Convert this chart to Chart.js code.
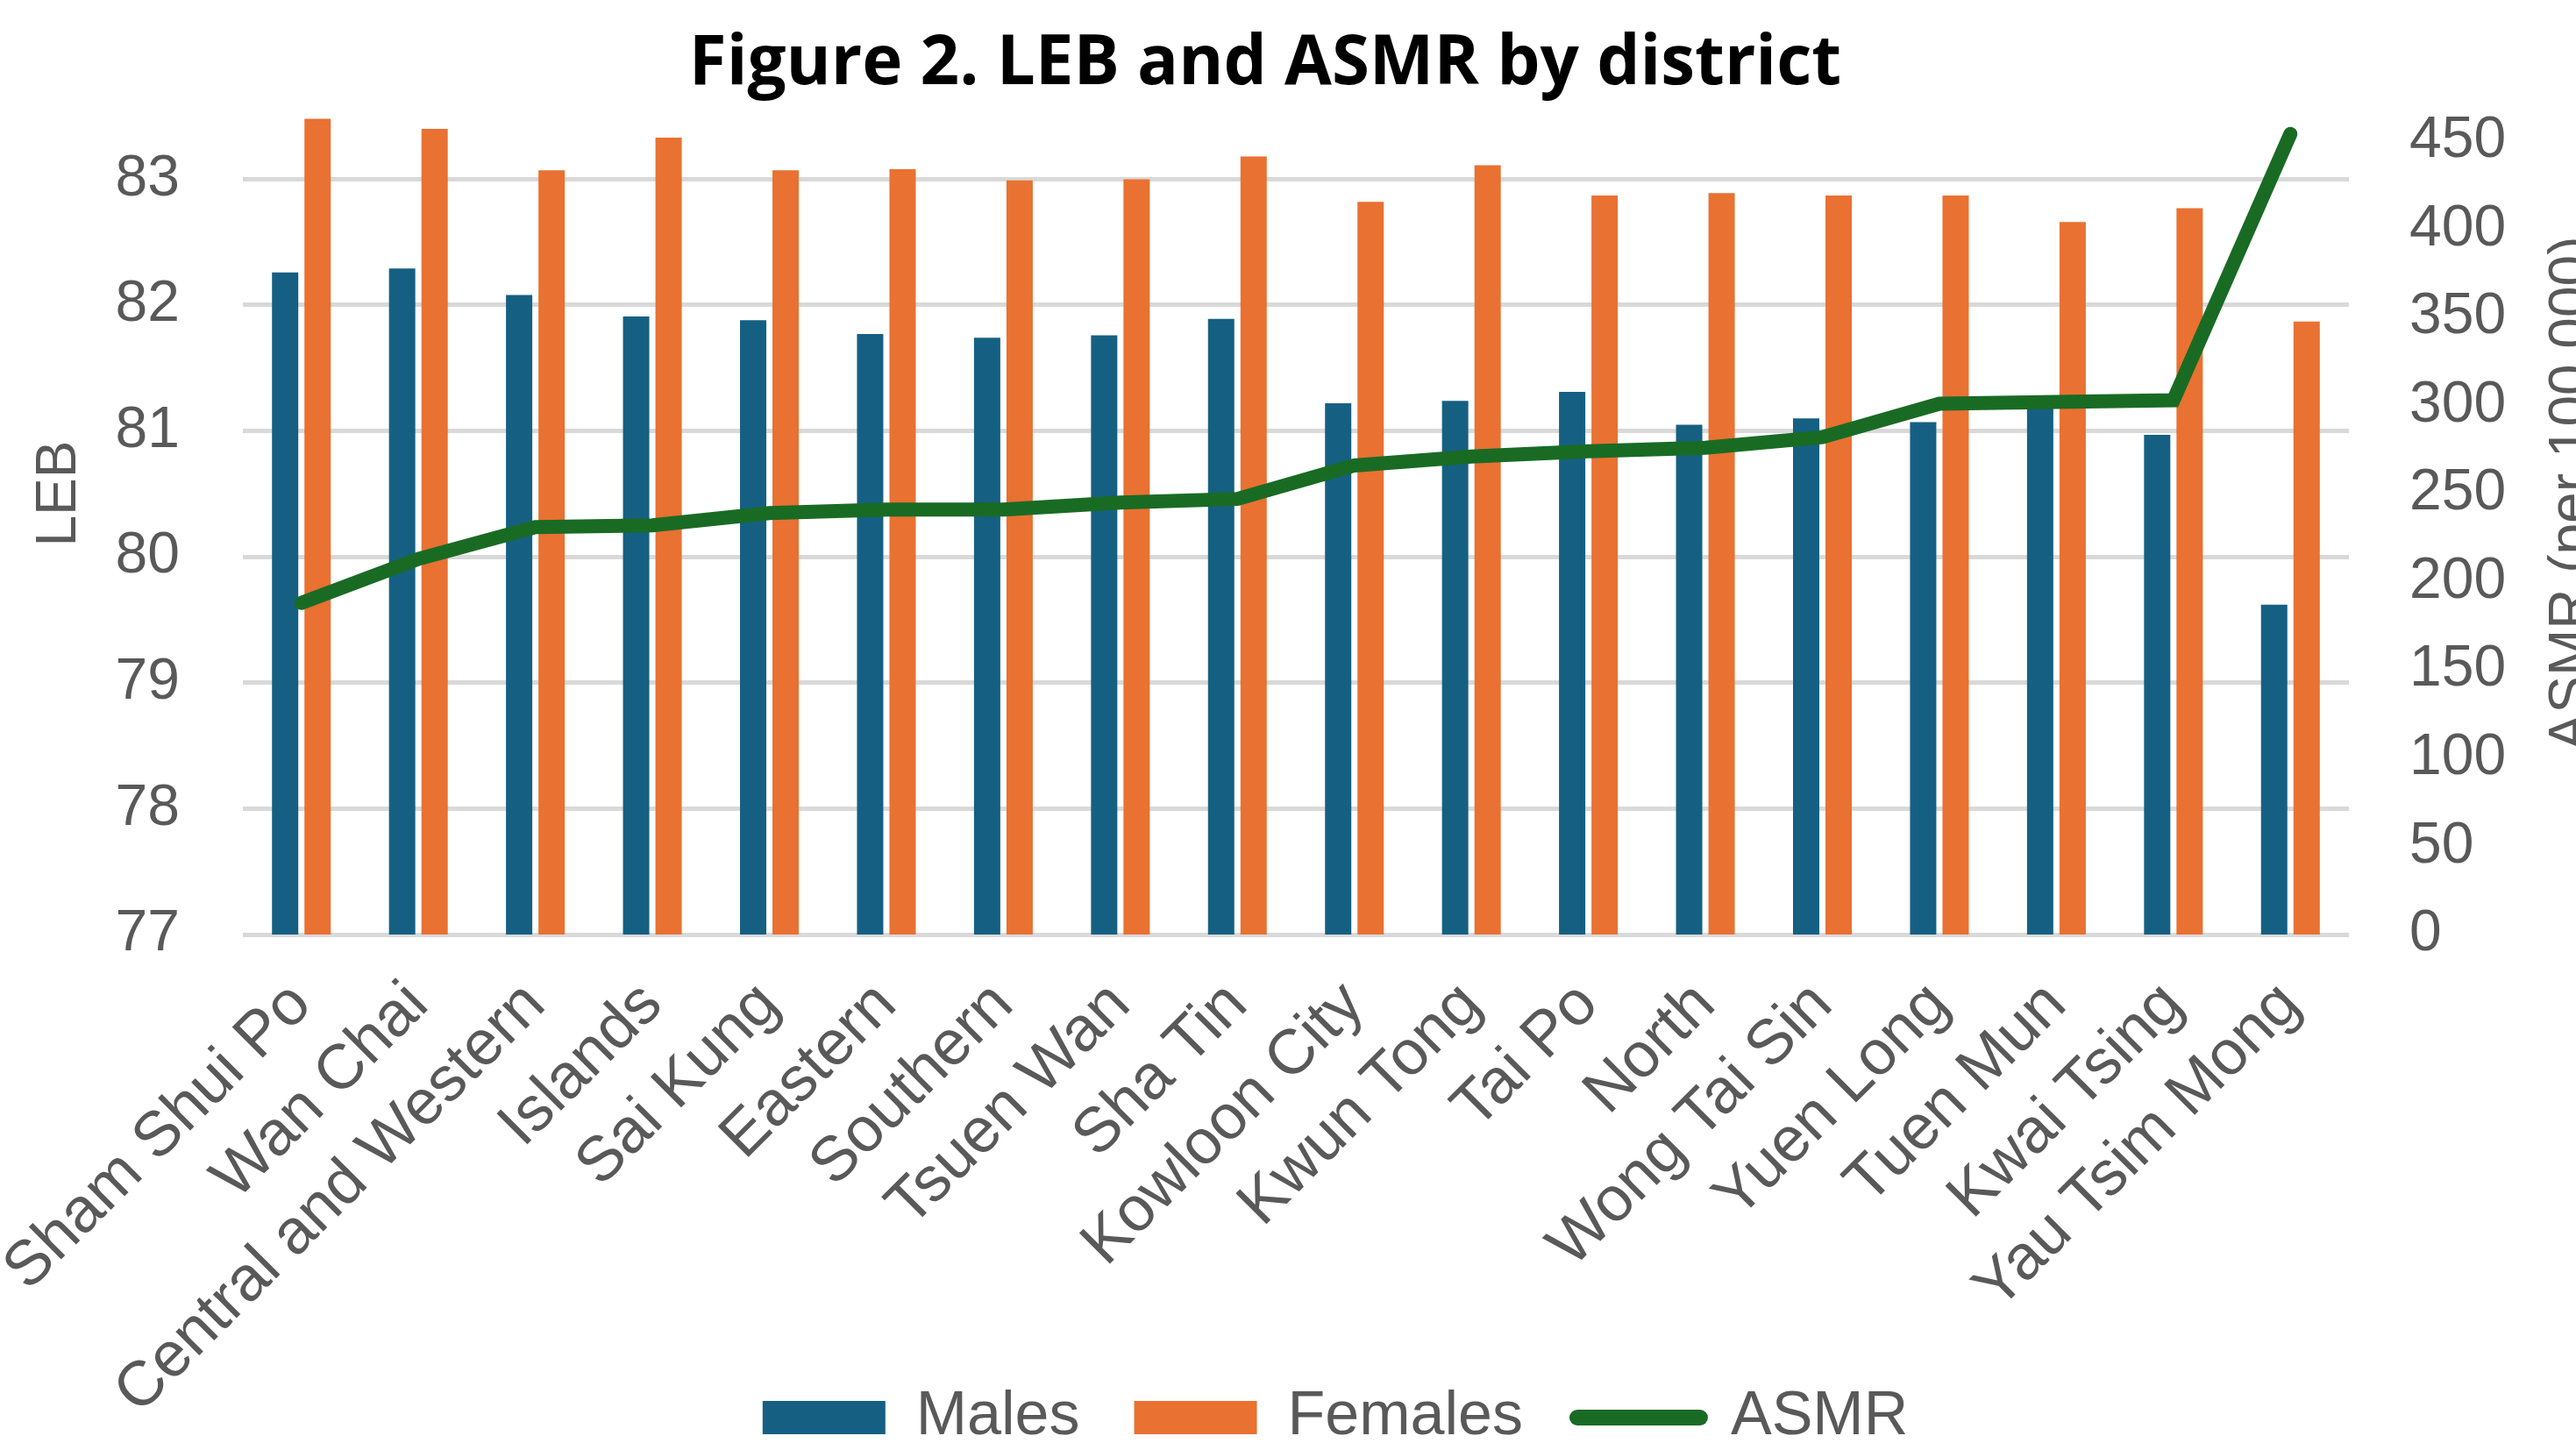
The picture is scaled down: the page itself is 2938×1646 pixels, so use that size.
<!DOCTYPE html>
<html>
<head>
<meta charset="utf-8">
<script src="https://cdn.jsdelivr.net/npm/chart.js@4.4.1/dist/chart.umd.min.js"></script>
<style>
  html, body { margin: 0; padding: 0; background: #ffffff; }
  #wrap { width: 2938px; height: 1646px; }
</style>
</head>
<body>
<div id="wrap"><canvas id="chart" width="2938" height="1646"></canvas></div>
<script>
// Data
const districts = ['Sham Shui Po', 'Wan Chai', 'Central and Western', 'Islands', 'Sai Kung', 'Eastern',
    'Southern', 'Tsuen Wan', 'Sha Tin', 'Kowloon City', 'Kwun Tong', 'Tai Po', 'North',
    'Wong Tai Sin', 'Yuen Long', 'Tuen Mun', 'Kwai Tsing', 'Yau Tsim Mong'];
const malesLEB = [82.26, 82.29, 82.08, 81.91, 81.88, 81.77, 81.74, 81.76, 81.89, 81.22, 81.24, 81.31, 81.05, 81.10, 81.07, 81.25, 80.97, 79.62];
const femalesLEB = [83.48, 83.40, 83.07, 83.33, 83.07, 83.08, 82.99, 83.00, 83.18, 82.82, 83.11, 82.87, 82.89, 82.87, 82.87, 82.66, 82.77, 81.87];
const asmrValues = [188, 213, 231, 232, 239, 241, 241, 245, 247, 266, 271, 274, 276, 282, 301, 302, 303, 454];
const lebTicks = [77, 78, 79, 80, 81, 82, 83];
const asmrTicks = [0, 50, 100, 150, 200, 250, 300, 350, 400, 450];

const GREY = '#595959';
const FAMILY = '"Liberation Sans", Arial, sans-serif';
const tickFont = { family: FAMILY, size: 66 };

// Rotated axis titles (both read bottom to top, as in the figure)
const axisTitles = {
    id: 'axisTitles',
    afterDraw(chart) {
        const ctx = chart.ctx;
        const midY = 563;
        ctx.save();
        ctx.font = '64px ' + FAMILY;
        ctx.fillStyle = GREY;
        ctx.textAlign = 'center';
        ctx.textBaseline = 'alphabetic';
        [[86, 'LEB'], [2952, 'ASMR (per 100 000)']].forEach(([x, text]) => {
            ctx.save();
            ctx.translate(x, midY);
            ctx.rotate(-Math.PI / 2);
            ctx.fillText(text, 0, 0);
            ctx.restore();
        });
        ctx.restore();
    }
};

// Small placement fixes after Chart.js has laid out its boxes
const layoutTweaks = {
    id: 'layoutTweaks',
    afterLayout(chart) {
        // long rotated labels run down beside the legend, so don't clip them
        chart.scales.x.bottom = chart.height;
        const lg = chart.legend;
        lg.left += 54; lg.right += 54;
        lg.top += 16; lg.bottom += 16;
        const t = chart.titleBlock;
        t.left -= 26; t.right -= 26;
    }
};

const ctx = document.getElementById('chart').getContext('2d');
new Chart(ctx, {
    type: 'bar',
    data: {
        labels: districts,
        datasets: [
            {
                label: 'Males',
                data: malesLEB,
                backgroundColor: '#156082',
                yAxisID: 'y',
                order: 1,
                pointStyle: 'rect',
                barPercentage: 0.81,
                categoryPercentage: 0.555
            },
            {
                label: 'Females',
                data: femalesLEB,
                backgroundColor: '#E97132',
                yAxisID: 'y',
                order: 1,
                pointStyle: 'rect',
                barPercentage: 0.81,
                categoryPercentage: 0.555
            },
            {
                type: 'line',
                label: 'ASMR',
                data: asmrValues,
                borderColor: '#196B24',
                backgroundColor: '#196B24',
                borderWidth: 16,
                borderCapStyle: 'round',
                tension: 0,
                pointRadius: 0,
                pointStyle: 'line',
                yAxisID: 'y1',
                order: 0
            }
        ]
    },
    options: {
        responsive: false,
        animation: false,
        devicePixelRatio: 1,
        layout: { padding: 0 },
        plugins: {
            title: {
                display: true,
                text: 'Figure 2. LEB and ASMR by district',
                color: '#000000',
                font: { family: '"Open Sans", sans-serif', size: 78, weight: 'bold' },
                padding: { top: 27, bottom: 12 }
            },
            legend: {
                position: 'bottom',
                labels: {
                    usePointStyle: true,
                    pointStyleWidth: 140,
                    boxHeight: 38,
                    padding: 62,
                    color: GREY,
                    font: { family: FAMILY, size: 70 },
                    sort: (a, b) => a.datasetIndex - b.datasetIndex,
                    generateLabels: chart => Chart.defaults.plugins.legend.labels.generateLabels(chart)
                        .map(item => {
                            if (item.text === 'ASMR') {
                                item.lineCap = 'round';
                                item.lineWidth = 18;
                            }
                            return item;
                        })
                }
            },
            tooltip: { enabled: false }
        },
        scales: {
            x: {
                grid: { display: false },
                border: { display: false },
                ticks: {
                    color: GREY,
                    font: { family: FAMILY, size: 72 },
                    autoSkip: false,
                    minRotation: 45,
                    maxRotation: 45,
                    padding: 30
                },
                afterFit: scale => {
                    scale.height = 438;
                    scale.paddingLeft = 0;
                    scale.paddingRight = 0;
                }
            },
            y: {
                position: 'left',
                min: 77,
                max: 83.5,
                grid: { color: '#d9d9d9', lineWidth: 5, drawTicks: false },
                border: { display: false },
                ticks: { color: GREY, font: tickFont, padding: 72 },
                afterBuildTicks: axis => { axis.ticks = lebTicks.map(v => ({ value: v })); },
                afterFit: scale => { scale.width = 277; }
            },
            y1: {
                position: 'right',
                min: 0,
                max: 464,
                grid: { display: false, drawTicks: false },
                border: { display: false },
                ticks: { color: GREY, font: tickFont, padding: 69 },
                afterBuildTicks: axis => { axis.ticks = asmrTicks.map(v => ({ value: v })); },
                afterFit: scale => { scale.width = 259; }
            }
        }
    },
    plugins: [axisTitles, layoutTweaks]
});
</script>
</body>
</html>
